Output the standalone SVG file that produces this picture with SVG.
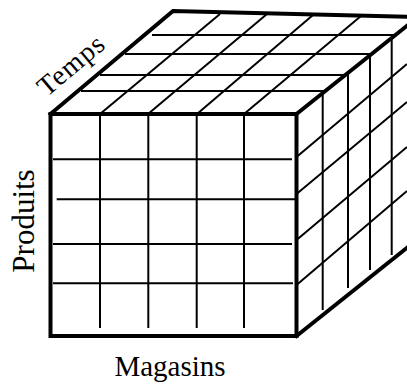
<svg xmlns="http://www.w3.org/2000/svg" width="407" height="385" viewBox="0 0 407 385">
<style>
.edge{stroke:#000;stroke-width:4;fill:none;stroke-linecap:square;stroke-linejoin:miter}
.grid{stroke:#000;stroke-width:2;fill:none}
.lbl{font-family:"Liberation Serif","Times New Roman",serif;fill:#000}
</style>
<rect width="407" height="385" fill="#fff"/>
<g id="top-face">
<line class="grid" x1="81" y1="91" x2="325" y2="91"/>
<line class="grid" x1="100" y1="75" x2="346" y2="75"/>
<line class="grid" x1="125" y1="54" x2="371" y2="54"/>
<line class="grid" x1="152" y1="35" x2="394" y2="35"/>
<line class="grid" x1="100" y1="114" x2="220" y2="14"/>
<line class="grid" x1="148" y1="114" x2="267" y2="14"/>
<line class="grid" x1="197" y1="114" x2="313" y2="15"/>
<line class="grid" x1="244" y1="114" x2="361" y2="16"/>
<polyline class="edge" points="50.5,114 173,11 418,17"/>
</g>
<g id="right-face">
<line class="grid" x1="322.7" y1="93" x2="322.7" y2="310"/>
<line class="grid" x1="348" y1="72" x2="348" y2="288"/>
<line class="grid" x1="370" y1="54" x2="370" y2="270"/>
<line class="grid" x1="391.7" y1="37" x2="391.7" y2="255"/>
<line class="grid" x1="296.5" y1="157" x2="407" y2="64"/>
<line class="grid" x1="296.5" y1="194" x2="407" y2="102"/>
<line class="grid" x1="296.5" y1="240" x2="407" y2="147"/>
<line class="grid" x1="296.5" y1="285" x2="407" y2="191"/>
<polyline class="edge" points="296.5,114 418,17"/>
<polyline class="edge" points="296.5,336 418,239"/>
</g>
<g id="front-face">
<line class="grid" x1="100" y1="114" x2="100" y2="328"/>
<line class="grid" x1="148.3" y1="114" x2="148.3" y2="328"/>
<line class="grid" x1="196.7" y1="114" x2="196.7" y2="328"/>
<line class="grid" x1="244" y1="114" x2="244" y2="328"/>
<line class="grid" x1="53" y1="159.3" x2="292" y2="159.3"/>
<line class="grid" x1="56.7" y1="199.3" x2="296" y2="199.3"/>
<line class="grid" x1="53" y1="244" x2="292" y2="244"/>
<line class="grid" x1="53" y1="283.3" x2="293" y2="283.3"/>
<rect class="edge" x="50.5" y="114" width="246" height="222"/>
</g>
<g id="labels">
<text class="lbl" font-size="28" letter-spacing="1" text-anchor="middle" transform="translate(77,72) rotate(-40)">Temps</text>
<text class="lbl" font-size="31" text-anchor="middle" transform="translate(34,221) rotate(-90)">Produits</text>
<text class="lbl" font-size="29" text-anchor="middle" x="170" y="376">Magasins</text>
</g>
</svg>
